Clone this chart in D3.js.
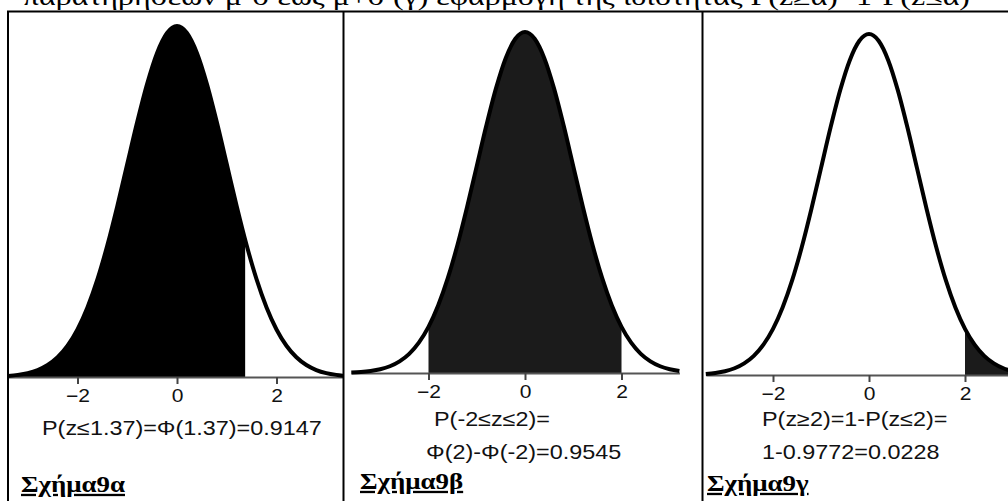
<!DOCTYPE html>
<html>
<head>
<meta charset="utf-8">
<script src="https://cdn.jsdelivr.net/npm/d3@7"></script>
<style>
  body { margin: 0; background: #fff; }
  svg { display: block; }
</style>
</head>
<body>
<svg id="chart" width="1008" height="501"></svg>
<script>
// standard normal density, read as a table (z step 0.2)
const zGrid = [-3.6, -3.4, -3.2, -3.0, -2.8, -2.6, -2.4, -2.2, -2.0, -1.8, -1.6, -1.4, -1.2, -1.0,
  -0.8, -0.6, -0.4, -0.2, 0, 0.2, 0.4, 0.6, 0.8, 1.0, 1.2, 1.4, 1.6, 1.8, 2.0, 2.2, 2.4, 2.6,
  2.8, 3.0, 3.2, 3.4, 3.6];
const density = [0.0006, 0.0012, 0.0024, 0.0044, 0.0079, 0.0136, 0.0224, 0.0355, 0.0540, 0.0790,
  0.1109, 0.1497, 0.1942, 0.2420, 0.2897, 0.3332, 0.3683, 0.3910, 0.3989, 0.3910, 0.3683, 0.3332,
  0.2897, 0.2420, 0.1942, 0.1497, 0.1109, 0.0790, 0.0540, 0.0355, 0.0224, 0.0136, 0.0079, 0.0044,
  0.0024, 0.0012, 0.0006];

const tickValues = [-2, 0, 2];
const shadeRanges = [[-4, 1.37], [-2, 2], [2, 4]];
const curveRanges = [[-3.4, 3.4], [-3.6, 3.2], [-3.4, 3.0]];
const annotations = [
  ["P(z≤1.37)=Φ(1.37)=0.9147"],
  ["P(-2≤z≤2)=", "Φ(2)-Φ(-2)=0.9545"],
  ["P(z≥2)=1-P(z≤2)=", "1-0.9772=0.0228"]
];
const captions = ["Σχήμα9α", "Σχήμα9β", "Σχήμα9γ"];
const headerText = "παρατηρήσεων μ-σ έως μ+σ (γ) εφαρμογή της ιδιότητας P(z≥α)=1-P(z≤α)";

// layout of the three cells
const layout = [
  { left: 8, right: 343, zeroX: 177, unit: 49.75, base: 377, peak: 26, fill: "#000",
    lineX: [42], lineY: [435], capX: 21, capY: 492 },
  { left: 343, right: 702, zeroX: 525, unit: 48.25, base: 373, peak: 32, fill: "#1b1b1b",
    lineX: [434, 426], lineY: [426, 459], capX: 360, capY: 489 },
  { left: 702, right: 1008, zeroX: 869, unit: 48, base: 375, peak: 34, fill: "#1b1b1b",
    lineX: [762, 762], lineY: [426, 459], capX: 707, capY: 491 }
];

const stretch = 1.17;
const svg = d3.select("#chart");
svg.append("rect").attr("width", 1008).attr("height", 501).attr("fill", "#fff");

const defs = svg.append("defs");
const points = zGrid.map((z, i) => ({ z: z, p: density[i] }));

// header text, mostly cut off at the top
svg.append("text")
  .attr("x", 23)
  .attr("y", 5)
  .attr("textLength", 947)
  .attr("lengthAdjust", "spacingAndGlyphs")
  .style("font-family", "'Liberation Serif', 'DejaVu Serif', serif")
  .style("font-size", "26px")
  .attr("fill", "#000")
  .text(headerText);

layout.forEach((L, k) => {
  const [z0, z1] = curveRanges[k];
  const x = d3.scaleLinear()
    .domain([z0, z1])
    .range([L.zeroX + L.unit * z0, L.zeroX + L.unit * z1]);
  const y = d3.scaleLinear()
    .domain([0, 0.3989])
    .range([L.base, L.peak]);

  defs.append("clipPath").attr("id", "cell" + k)
    .append("rect")
    .attr("x", L.left).attr("y", 12)
    .attr("width", L.right - L.left).attr("height", 489);

  const [s0, s1] = shadeRanges[k];
  defs.append("clipPath").attr("id", "shade" + k)
    .append("rect")
    .attr("x", x(Math.max(s0, z0 - 1)))
    .attr("y", 0)
    .attr("width", x(Math.min(s1, z1 + 1)) - x(Math.max(s0, z0 - 1)))
    .attr("height", 501);

  const g = svg.append("g").attr("clip-path", `url(#cell${k})`);
  const data = points.filter(d => d.z >= z0 - 1e-9 && d.z <= z1 + 1e-9);

  const area = d3.area()
    .curve(d3.curveMonotoneX)
    .x(d => x(d.z))
    .y0(L.base)
    .y1(d => y(d.p));

  const line = d3.line()
    .curve(d3.curveMonotoneX)
    .x(d => x(d.z))
    .y(d => y(d.p));

  g.append("path")
    .datum(data)
    .attr("clip-path", `url(#shade${k})`)
    .attr("fill", L.fill)
    .attr("d", area);

  // axis
  const axis = d3.axisBottom(x)
    .tickValues(tickValues)
    .tickFormat(d3.format("d"))
    .tickSize(7)
    .tickSizeOuter(0)
    .tickPadding(5);

  const axG = g.append("g")
    .attr("transform", `translate(0,${L.base})`)
    .call(axis);
  axG.select(".domain").attr("stroke", "#555").attr("stroke-width", 2);
  axG.selectAll(".tick line").attr("stroke", "#444").attr("stroke-width", 2);
  axG.selectAll(".tick text")
    .attr("fill", "#111")
    .attr("transform", `scale(${stretch},1)`)
    .style("font-family", "'Liberation Sans', Arial, sans-serif")
    .style("font-size", "18px");

  g.append("path")
    .datum(data)
    .attr("fill", "none")
    .attr("stroke", "#000")
    .attr("stroke-width", 4)
    .attr("stroke-linejoin", "round")
    .attr("d", line);

  // probability text
  annotations[k].forEach((t, j) => {
    g.append("text")
      .attr("transform", `translate(${L.lineX[j]},${L.lineY[j]}) scale(${stretch},1)`)
      .style("font-family", "'Liberation Sans', Arial, sans-serif")
      .style("font-size", "20px")
      .attr("fill", "#111")
      .text(t);
  });

  g.append("text")
    .attr("transform", `translate(${L.capX},${L.capY}) scale(${stretch},1)`)
    .style("font-family", "'Liberation Serif', 'DejaVu Serif', serif")
    .style("font-size", "23px")
    .style("font-weight", "bold")
    .style("text-decoration", "underline")
    .attr("fill", "#000")
    .text(captions[k]);
});

// table borders
svg.append("line").attr("x1", 7).attr("x2", 1008).attr("y1", 11.5).attr("y2", 11.5)
  .attr("stroke", "#000").attr("stroke-width", 2);
[8, 343.5, 702.5].forEach(xv => {
  svg.append("line").attr("x1", xv).attr("x2", xv).attr("y1", 11).attr("y2", 501)
    .attr("stroke", "#000").attr("stroke-width", 2);
});
</script>
</body>
</html>
